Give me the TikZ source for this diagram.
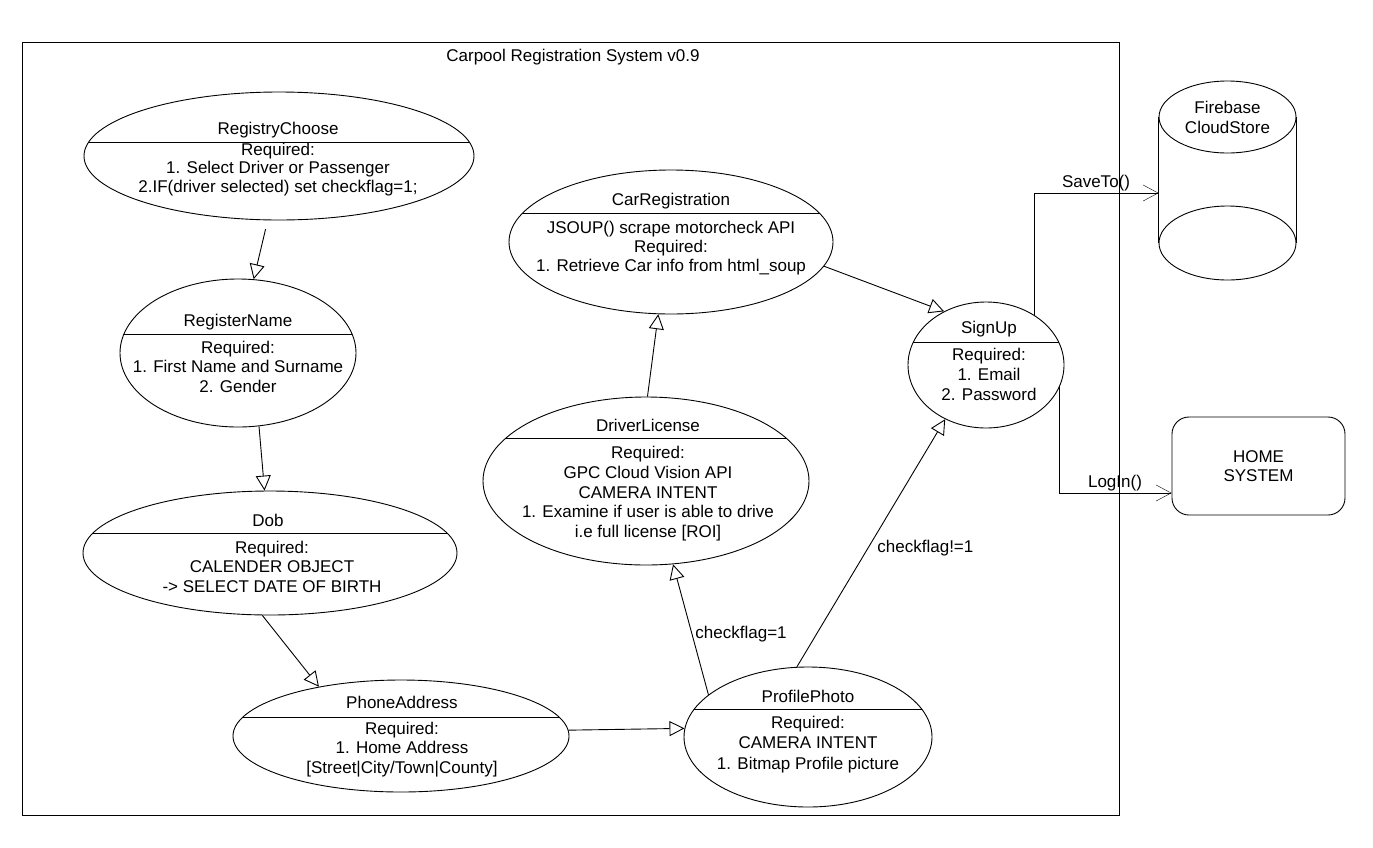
\documentclass[tikz,border=0pt]{standalone}
\usepackage{fontspec}
\setmainfont{Liberation Sans}
\usetikzlibrary{arrows.meta,shapes.geometric,backgrounds}

\begin{document}
\begin{tikzpicture}[
  x=1pt,y=-1pt,line width=0.9pt,
  txt/.style={inner sep=0pt,font=\fontsize{17}{19.5}\selectfont},
  ucname/.style={txt,anchor=base},
  ucbody/.style={txt,anchor=north,align=center},
  sepup/.store in=\sepup,
  usecase/.style={ellipse,draw,fill=white,inner sep=0pt,
    path picture={\draw ([yshift=\sepup]path picture bounding box.west) -- ([yshift=\sepup]path picture bounding box.east);}},
  flow/.style={-{Triangle[open,length=15pt,width=15pt]}},
  call/.style={-{Straight Barb[length=15pt,width=16pt]}}
]
\useasboundingbox (0,0) rectangle (1373,847);
\node[draw,inner sep=0pt,minimum width=1097pt,minimum height=773pt,anchor=north west] (sys) at (22,42) {};
\node[ucname] (systitle) at (573,61) {Carpool Registration System v0.9};

\node[usecase,minimum width=390pt,minimum height=128pt,sepup=14pt] (choose) at (279,156) {};
\node[ucname] (chooseT) at (278,134) {RegistryChoose};
\node[ucbody,font=\fontsize{17}{18.3}\selectfont] (chooseB) at (278,142.7) {Required:\\1. Select Driver or Passenger\\2.IF(driver selected) set checkflag=1;};

\node[usecase,minimum width=236pt,minimum height=148pt,sepup=19pt] (regname) at (238,353) {};
\node[ucname] (regnameT) at (238,326) {RegisterName};
\node[ucbody] (regnameB) at (238,340.7) {Required:\\1. First Name and Surname\\2. Gender};

\node[usecase,minimum width=374pt,minimum height=124pt,sepup=20pt] (dob) at (270,553) {};
\node[ucname] (dobT) at (268,526) {Dob};
\node[ucbody] (dobB) at (272,540.7) {Required:\\CALENDER OBJECT\\-> SELECT DATE OF BIRTH};

\node[usecase,minimum width=336pt,minimum height=112pt,sepup=19pt] (pa) at (401,736) {};
\node[ucname] (paT) at (402,708) {PhoneAddress};
\node[ucbody] (paB) at (402,721.7) {Required:\\1. Home Address\\{[}Street|City/Town|County{]}};

\node[usecase,minimum width=248pt,minimum height=140pt,sepup=28pt] (pp) at (808,737) {};
\node[ucname] (ppT) at (808,702) {ProfilePhoto};
\node[ucbody,font=\fontsize{17}{20.5}\selectfont] (ppB) at (808,715.7) {Required:\\CAMERA INTENT\\1. Bitmap Profile picture};

\node[usecase,minimum width=326pt,minimum height=168pt,sepup=43pt] (dl) at (646,481) {};
\node[ucname] (dlT) at (648,431) {DriverLicense};
\node[ucbody,font=\fontsize{17}{19.8}\selectfont] (dlB) at (648,445.7) {Required:\\GPC Cloud Vision API\\CAMERA INTENT\\1. Examine if user is able to drive\\i.e full license [ROI]};

\node[usecase,minimum width=324pt,minimum height=144pt,sepup=29pt] (cr) at (671,242) {};
\node[ucname] (crT) at (671,205) {CarRegistration};
\node[ucbody,font=\fontsize{17}{19}\selectfont] (crB) at (671,220.7) {JSOUP() scrape motorcheck API\\Required:\\1. Retrieve Car info from html\_soup};

\node[usecase,minimum width=156pt,minimum height=126pt,sepup=23pt] (su) at (986,365) {};
\node[ucname] (suT) at (989,333) {SignUp};
\node[ucbody,font=\fontsize{17}{20}\selectfont] (suB) at (989,347.7) {Required:\\1. Email\\2. Password};

\node[draw,ellipse,inner sep=0pt,minimum width=137pt,minimum height=72pt,align=center,font=\fontsize{17}{20}\selectfont] (fire) at (1227.5,117) {Firebase\\CloudStore};
\node[draw,ellipse,inner sep=0pt,minimum width=137pt,minimum height=74pt] (fireBase) at (1227.5,243) {};
\draw (fire.west) -- (fireBase.west) (fire.east) -- (fireBase.east);

\node[draw,txt,rounded corners=17pt,minimum width=173pt,minimum height=98pt,align=center] (home) at (1258.5,466) {HOME\\SYSTEM};

\coordinate (fireIn) at ([yshift=-76pt]fire.west);
\coordinate (saveBend) at (1034,193);
\coordinate (homeIn) at ([yshift=-27pt]home.west);
\coordinate (loginBend) at (1059,493);

\draw[flow,shorten <=9pt] (choose.260) -- (regname.78);
\draw[flow] (regname.286) -- (dob.95);
\draw[flow] (dob.263) -- (pa.149);
\draw[flow] (pa.2) -- (pp.176);
\draw[flow] (pp.157) -- (dl.288);
\draw[flow] (pp.99) -- (su.233);
\draw[flow] (dl.89) -- (cr.260);
\draw[flow] (cr.351) -- (su.128);
\node[txt,anchor=base west] (flagDL) at (695,638) {checkflag=1};
\node[txt,anchor=base west] (flagSU) at (877,552) {checkflag!=1};

\begin{scope}[on background layer]
\draw[call] (su.center -| saveBend) -- (saveBend) -- (fireIn);
\draw[call] (su.center -| loginBend) -- (loginBend) -- (homeIn);
\end{scope}
\node[txt,anchor=base] (saveLbl) at (1096,187) {SaveTo()};
\node[txt,anchor=base] (loginLbl) at (1115,487) {LogIn()};
\end{tikzpicture}
\end{document}
